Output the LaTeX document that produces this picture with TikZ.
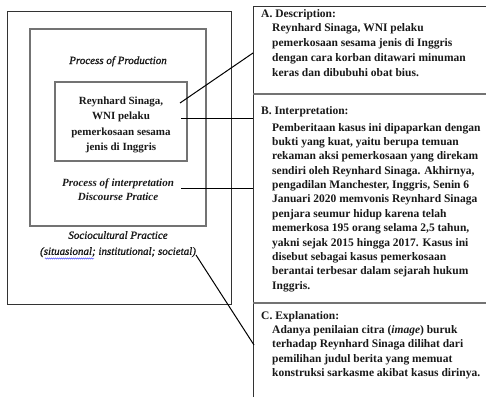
\documentclass[tikz,border=0pt]{standalone}
\usepackage{fontspec}
\setmainfont{Liberation Serif}
\newfontface\itsemi[FakeBold=1.2]{Liberation Serif Italic}
\usetikzlibrary{decorations.pathmorphing}
\begin{document}
\begin{tikzpicture}[x=1pt,y=-1pt,
  outerbox/.style={draw=black!80, line width=0.9pt},
  midbox/.style={draw=black!55, line width=1.3pt},
  innerbox/.style={draw=black!55, line width=1.1pt},
  colline/.style={draw=black!80, line width=0.9pt},
  sepline/.style={draw=black!55, line width=1.4pt},
  conn/.style={draw=black, line width=1pt},
  spellmark/.style={draw=blue!80, line width=0.4pt, decorate, decoration={snake, amplitude=0.6pt, segment length=2pt}},
  itlbl/.style={font=\itsemi\fontsize{11}{14}\selectfont, inner sep=0, align=center, text=black!90},
  title/.style={font=\bfseries\fontsize{11.5}{14}\selectfont, inner sep=0, anchor=north west, text=black!90},
  body/.style={font=\bfseries\fontsize{11.5}{#1}\selectfont, inner sep=0, anchor=north west, align=left, text=black!90},
  inner/.style={font=\bfseries\fontsize{11}{15.5}\selectfont, inner sep=0, anchor=north, align=center, text=black!90}
]
\useasboundingbox (0,0) rectangle (486,397);
\fill[white] (0,0) rectangle (486,397);

% nested boxes
\draw[outerbox] (7,11) rectangle (231,304);
\draw[midbox] (30,29) rectangle (206,226);
\draw[innerbox] (55,82) rectangle (187,161);

\node[itlbl, anchor=base] (prod) at (118,64) {Process of Production};
\node[inner] (core) at (121,96.5) {Reynhard Sinaga,\\WNI pelaku\\pemerkosaan sesama\\jenis di Inggris};
\node[itlbl, anchor=north, font=\bfseries\itshape\fontsize{11}{14}\selectfont] (interp) at (118,179) {Process of interpretation\\Discourse Pratice};
\node[itlbl, anchor=north, font=\itsemi\fontsize{11}{16}\selectfont] (socio) at (118,231) {Sociocultural Practice\\(situasional; institutional; societal)};
\coordinate (w1) at (45,258.5);
\coordinate (w2) at (94,258.5);
\draw[spellmark] (w1) -- (w2);

% right column frame
\coordinate (colbot) at (253,397);
\coordinate (coltop) at (253,6);
\coordinate (colright) at (486,6);
\draw[colline] (colbot) -- (coltop) -- (colright);
\coordinate (sab1) at (253,94);
\coordinate (sab2) at (486,94);
\coordinate (sbc1) at (253,303);
\coordinate (sbc2) at (486,303);
\draw[sepline] (sab1) -- (sab2);
\draw[sepline] (sbc1) -- (sbc2);

\node[title] (ta) at (261,9) {A. Description:};
\node[body=15] (ba) at (272,23) {Reynhard Sinaga, WNI pelaku\\pemerkosaan sesama jenis di Inggris\\dengan cara korban ditawari minuman\\keras dan dibubuhi obat bius.};

\node[title] (tb) at (261,106.5) {B. Interpretation:};
\node[body=14.36] (bb) at (272,123) {Pemberitaan kasus ini dipaparkan dengan\\bukti yang kuat, yaitu berupa temuan\\rekaman aksi pemerkosaan yang direkam\\sendiri oleh Reynhard Sinaga. Akhirnya,\\pengadilan Manchester, Inggris, Senin 6\\Januari 2020 memvonis Reynhard Sinaga\\penjara seumur hidup karena telah\\memerkosa 195 orang selama 2,5 tahun,\\yakni sejak 2015 hingga 2017. Kasus ini\\disebut sebagai kasus pemerkosaan\\berantai terbesar dalam sejarah hukum\\Inggris.};

\node[title] (tc) at (261,311) {C. Explanation:};
\node[body=14.3] (bc) at (272,325.5) {Adanya penilaian citra (\textit{image}) buruk\\terhadap Reynhard Sinaga dilihat dari\\pemilihan judul berita yang memuat\\konstruksi sarkasme akibat kasus dirinya.};

% connectors
\coordinate (s1) at (180,103);
\coordinate (e1) at (253,53);
\coordinate (s2) at (181,118);
\coordinate (e2) at (253,118);
\coordinate (s3) at (181,188);
\coordinate (e3) at (253,188);
\coordinate (s4) at (196,255);
\coordinate (e4) at (254,345);
\draw[conn] (s1) -- (e1);
\draw[conn] (s2) -- (e2);
\draw[conn] (s3) -- (e3);
\draw[conn] (s4) -- (e4);
\end{tikzpicture}
\end{document}
